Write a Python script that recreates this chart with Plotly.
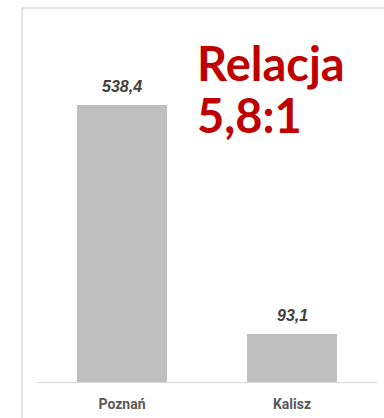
import plotly.graph_objects as go

# Data
cities = ["Poznań", "Kalisz"]
values = [538.4, 93.1]
headline = ["Relacja", "5,8:1"]

W, H = 384, 418
ML, MR, MT, MB = 37, 7, 8, 36
plot_w = W - ML - MR
plot_h = H - MT - MB

bar_color = "#bfbfbf"
frame_color = "#d9d9d9"

fig = go.Figure(
    go.Bar(
        x=cities,
        y=values,
        marker=dict(color=bar_color, line=dict(width=0)),
        width=0.53,
        hoverinfo="skip",
    )
)

# Value labels above bars (decimal comma)
for c, v in zip(cities, values):
    fig.add_annotation(
        x=c, y=v, xref="x", yref="y",
        text=f"{v:.1f}".replace(".", ","),
        showarrow=False, yanchor="bottom", yshift=8,
        font=dict(family="Liberation Sans, Arial, sans-serif", size=16,
                  color="#404040", weight="bold", style="italic"),
    )

# Headline text
def px_x(px):
    return (px - ML) / plot_w

def px_y(py):
    return (H - MB - py) / plot_h

for line, base in zip(headline, [79, 131]):
    fig.add_annotation(
        x=px_x(195), y=px_y(base), xref="paper", yref="paper",
        text=line, showarrow=False, xanchor="left", yanchor="bottom",
        yshift=-14,
        font=dict(family="Lato, sans-serif", size=47, color="#C00000", weight="bold"),
    )

# Outer frame: left and top edges
fig.add_shape(type="line", xref="paper", yref="paper",
              x0=px_x(22), x1=px_x(22), y0=px_y(H + 2), y1=px_y(8),
              line=dict(color=frame_color, width=1.5))
fig.add_shape(type="line", xref="paper", yref="paper",
              x0=px_x(22), x1=px_x(W + 2), y0=px_y(8), y1=px_y(8),
              line=dict(color=frame_color, width=1.5))

fig.update_layout(
    width=W, height=H,
    margin=dict(l=ML, r=MR, t=MT, b=MB),
    paper_bgcolor="white", plot_bgcolor="white",
    showlegend=False,
    xaxis=dict(
        showline=True, linecolor=frame_color, linewidth=1,
        ticks="", showgrid=False, ticklabelstandoff=9,
        tickfont=dict(family="Roboto, sans-serif", size=14, color="#595959", weight="bold"),
        range=[-0.5, 1.5],
    ),
    yaxis=dict(visible=False, range=[0, 727], showgrid=False, zeroline=False),
)

fig.write_html("out.html")
